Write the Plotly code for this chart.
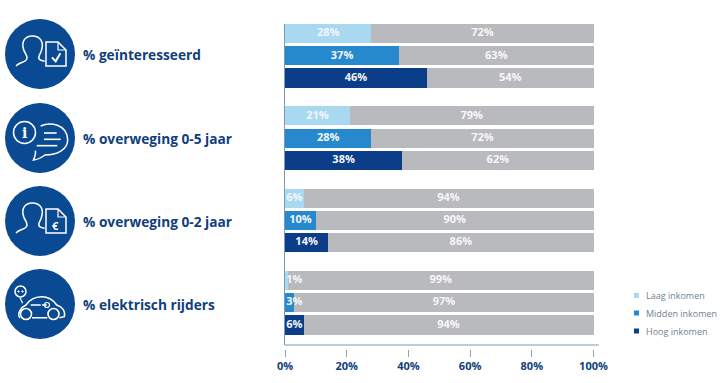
import re
import plotly.graph_objects as go

W, H = 720, 383

groups = ["% geïnteresseerd", "% overweging 0-5 jaar", "% overweging 0-2 jaar", "% elektrisch rijders"]
incomes = ["Laag inkomen", "Midden inkomen", "Hoog inkomen"]
laag = [28, 21, 6, 1]
midden = [37, 28, 10, 3]
hoog = [46, 38, 14, 6]
xticks = [0, 20, 40, 60, 80, 100]

LIGHT, MID, DARK, GREY = "#a9d9f1", "#2689cd", "#0b3d89", "#b9babd"
NAVY = "#0a4a92"
TEXT = "#103f7c"

series = [laag, midden, hoog]
colors = [LIGHT, MID, DARK]

def pos(g, b):
    return g * 3.7 + b

def px(x):
    return x / W

def py(y):
    return 1 - y / H

L, R, T, B = 285.0, 599.0, 24.0, 345.0
TICK_Y = 349.0

fig = go.Figure()
for b, (name, vals, col) in enumerate(zip(incomes, series, colors)):
    ys = [pos(g, b) for g in range(len(groups))]
    fig.add_bar(x=vals, y=ys, orientation="h", name=name, marker=dict(color=col, line_width=0),
                width=0.86, showlegend=False, hoverinfo="x+name")
    fig.add_bar(x=[100 - v for v in vals], y=ys, orientation="h", name="Overig", marker=dict(color=GREY, line_width=0),
                width=0.86, showlegend=False, hoverinfo="x+name")
    fig.add_scatter(x=[max(v / 2, 3) for v in vals], y=ys, mode="text",
                    text=[f"{v}%" for v in vals], showlegend=False, hoverinfo="skip", cliponaxis=False,
                    textfont=dict(family="Open Sans", size=11, color="#f4f6f8", weight="bold"))
    fig.add_scatter(x=[v + (100 - v) / 2 for v in vals], y=ys, mode="text",
                    text=[f"{100 - v}%" for v in vals], showlegend=False, hoverinfo="skip", cliponaxis=False,
                    textfont=dict(family="Open Sans", size=11, color="#f7f7f8", weight="bold"))

shapes = []
annotations = []

def path(d, color="white", width=1.5, fill=None, oy=0.0, ox=0.0, scale=1 / 3):
    """d is an icon outline in 3x-zoomed pixel space."""
    toks = re.findall(r"[MLCQZ]|-?\d+\.?\d*", d)
    s, is_x = "", True
    for t in toks:
        if t in "MLCQZ":
            s += t
            is_x = True
        elif is_x:
            s += f"{px(float(t) * scale + ox):.5f} "
            is_x = False
        else:
            s += f"{py(float(t) * scale + oy):.5f} "
            is_x = True
    shapes.append(dict(type="path", xref="paper", yref="paper", path=s,
                       line=dict(color=color, width=width), fillcolor=fill or "rgba(0,0,0,0)"))

def circle(cx, cy, r, color="white", width=1.5, fill=None):
    shapes.append(dict(type="circle", xref="paper", yref="paper",
                       x0=px(cx - r), x1=px(cx + r), y0=py(cy - r), y1=py(cy + r),
                       line=dict(color=color, width=width), fillcolor=fill or "rgba(0,0,0,0)"))

def note(x, y, text, size, color="white", family="Open Sans", xanchor="center"):
    annotations.append(dict(x=px(x), y=py(y), xref="paper", yref="paper", xanchor=xanchor, yanchor="middle",
                            text=text, showarrow=False, font=dict(family=family, size=size, color=color)))

def person(oy):
    path("M48 198 C60 185 72 190 80 178 C84 170 78 165 72 152 C62 125 75 108 97 108 "
         "C120 108 133 125 124 152 C120 165 112 172 118 178 C122 181 128 183 134 184", oy=oy)

def document(oy):
    path("M138 126 L174 126 L198 150 L198 198 L138 198 Z", oy=oy)
    path("M174 126 L174 150 L198 150", oy=oy, width=1.2)

for cy in [54, 138, 221, 304]:
    circle(40, cy, 35, color=NAVY, width=0, fill=NAVY)

# icon 1: person with checked document
person(0)
document(0)
path("M156 172 L167 184 L181 160", width=2)

# icon 2: info and speech bubble
circle(24.5, 132.5, 11)
note(24.5, 132.5, "<b>i</b>", 14, family="DejaVu Serif")
path("M122 378 C150 365 200 372 203 418 C204 450 170 465 135 465 C125 472 112 480 100 480 "
     "C105 470 108 462 106 452")
path("M132 399 L170 399", width=1.6)
path("M132 418 L182 418", width=1.6)
path("M110 437 L172 437", width=1.6)

# icon 3: person with euro document
person(221 - 54)
document(221 - 54)
note(55.5, 225, "<b>€</b>", 11)

# icon 4: car with plug
circle(20.5, 291.5, 5.5)
circle(18.5, 291.5, 0.7, width=1, fill="white")
circle(22.5, 291.5, 0.7, width=1, fill="white")
path("M60 323 L68 340", oy=190, width=1.2)
path("M60 384 C50 372 62 352 78 345 C100 315 145 310 170 345 C185 350 197 362 193 380 L178 383 "
     "M142 383 L96 383", oy=190)
circle(26, 314, 5.5, width=1.6)
circle(53.5, 314, 5.5, width=1.6)
path("M92 345 L122 345 M126 345 L140 345", oy=190, width=1.6)
circle(47, 305, 2.5, width=1.2)

# group labels
for label, cy in zip(groups, [54, 138, 221, 304]):
    note(80.5, cy + 0.5, f"<b>{label}</b>", 13.7, color=TEXT, xanchor="left")

# legend
for name, col, y in zip(incomes, colors, [295.5, 313, 331]):
    shapes.append(dict(type="rect", xref="paper", yref="paper", x0=px(634), x1=px(639), y0=py(y + 2.5), y1=py(y - 2.5),
                       line_width=0, fillcolor=col))
    note(643.5, y, name, 9, color="#6f7f8e", xanchor="left")

# baseline of the x axis
shapes.append(dict(type="line", xref="paper", yref="paper", x0=px(L), x1=px(R), y0=py(B), y1=py(B),
                   line=dict(color="#7f98b3", width=1)))

fig.update_layout(
    width=W, height=H, margin=dict(l=0, r=0, t=0, b=0, autoexpand=False), barmode="stack",
    paper_bgcolor="white", plot_bgcolor="white", bargap=0, shapes=shapes, annotations=annotations,
    showlegend=False,
    xaxis=dict(domain=[px(L), px(R)], range=[0, (R - L) / 3.085], anchor="free", position=py(TICK_Y),
               tickvals=xticks, ticktext=[f"{t}%" for t in xticks], ticks="outside", ticklen=7,
               tickwidth=1, tickcolor="#8fa3b8", showgrid=False, zeroline=False, showline=False,
               tickfont=dict(family="Open Sans", size=11, color=TEXT, weight="bold")),
    yaxis=dict(domain=[py(B), py(T)], range=[(B - 33.5) / 22.25, (T - 33.5) / 22.25],
               showticklabels=False, ticks="", showgrid=False, zeroline=False,
               showline=True, linecolor="#7f98b3", linewidth=1),
)
fig.write_html("out.html", config=dict(displayModeBar=False),
               post_script="document.body.style.margin='0';")
